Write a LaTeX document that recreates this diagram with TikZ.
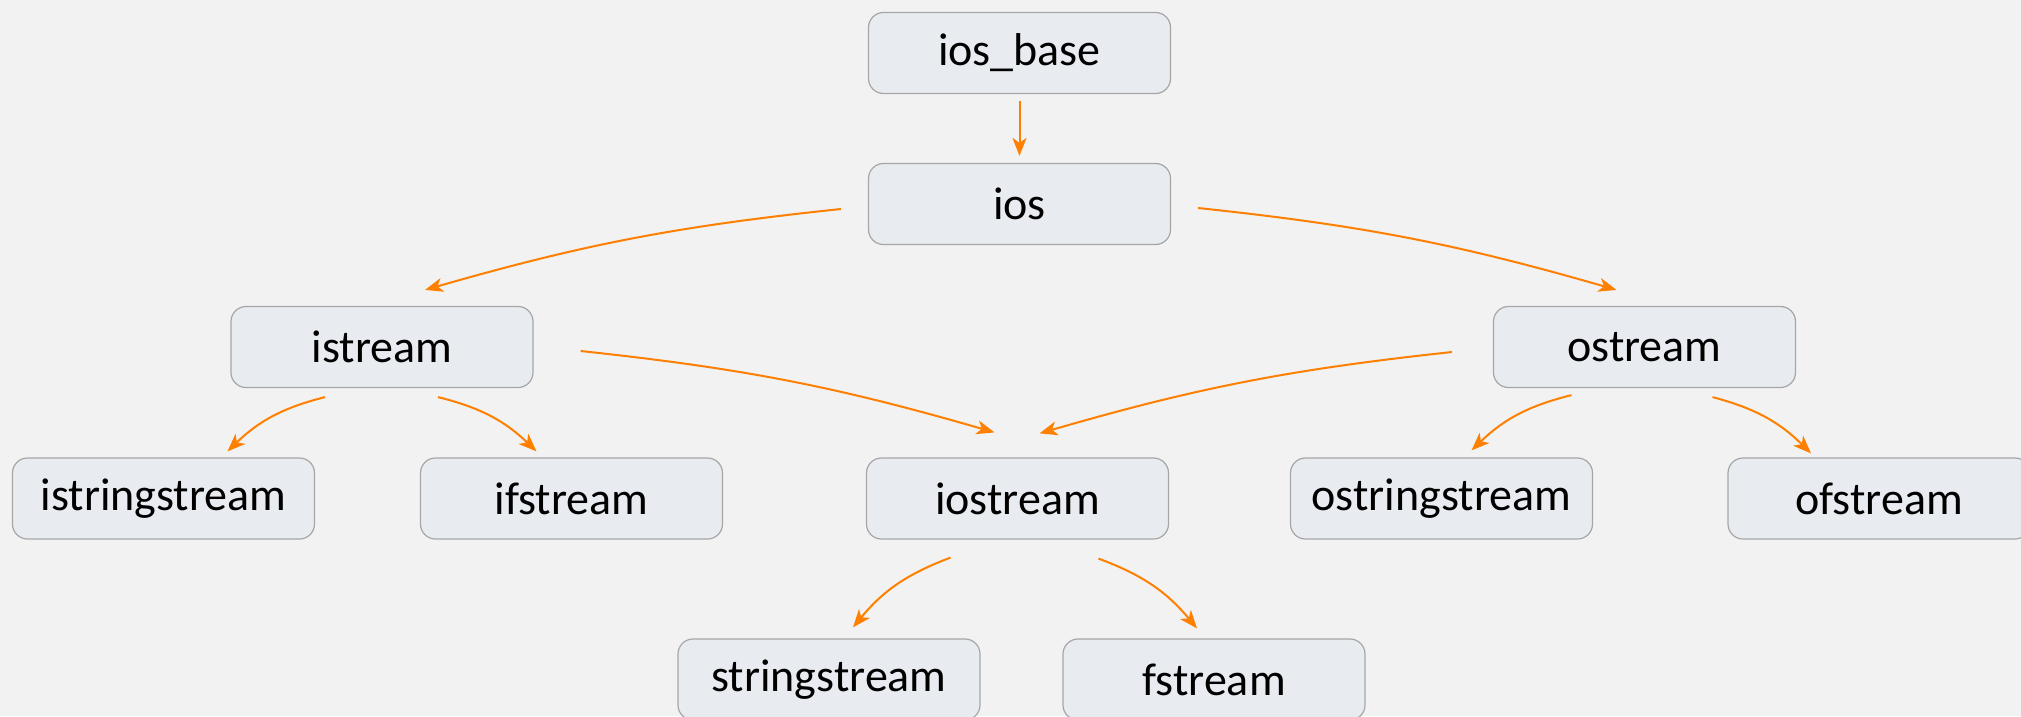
\documentclass[tikz,border=0pt]{standalone}
\usepackage{fontspec}
\setmainfont{Carlito}
\usetikzlibrary{arrows.meta}
\definecolor{bgc}{HTML}{F2F2F2}
\definecolor{boxfill}{HTML}{E8ECF0}
\definecolor{boxline}{HTML}{A6A6A6}
\definecolor{arr}{HTML}{FF8000}
\tikzset{
  cls/.style={draw=boxline, line width=1.2pt, fill=boxfill, rounded corners=15pt,
    minimum width=302pt, minimum height=81pt, inner sep=0pt,
    font=\fontsize{46}{54}\selectfont},
  inh/.style={draw=arr, line width=2pt, -{Stealth[length=18pt,width=14pt,inset=5pt]}}
}
\begin{document}
\begin{tikzpicture}[x=1pt,y=-1pt]
\fill[bgc] (0,0) rectangle (2021,716);
\useasboundingbox (0,0) rectangle (2021,716);
\node[cls] (iosbase) at (1019.5,53) {ios\_base};
\node[cls] (ios) at (1019.5,204) {ios};
\node[cls] (istream) at (382,347) {istream};
\node[cls] (ostream) at (1644.5,347) {ostream};
\node[cls] (istringstream) at (163.5,498.5) {istringstream};
\node[cls] (ifstream) at (571.5,498.5) {ifstream};
\node[cls] (iostream) at (1017.5,498.5) {iostream};
\node[cls] (ostringstream) at (1441.5,498.5) {ostringstream};
\node[cls] (ofstream) at (1879,498.5) {ofstream};
\node[cls] (stringstream) at (829,679.5) {stringstream};
\node[cls] (fstream) at (1214,679.5) {fstream};

\draw[inh] ([shift={(0,7)}]iosbase.south) -- ([shift={(0,-7)}]ios.north);
\draw[inh] ([shift={(-27,5)}]ios.west) to[bend right=5] ([shift={(43,-16)}]istream.north);
\draw[inh] ([shift={(27,4)}]ios.east) to[bend left=5] ([shift={(-28,-16)}]ostream.north);
\draw[inh] ([shift={(47,4)}]istream.east) to[bend left=5] ([shift={(-23,-25)}]iostream.north);
\draw[inh] ([shift={(-41,5)}]ostream.west) to[bend right=5] ([shift={(22,-24)}]iostream.north);
\draw[inh] ([shift={(-57,9)}]istream.south) to[bend right=15] ([shift={(64,-6)}]istringstream.north);
\draw[inh] ([shift={(56,9)}]istream.south) to[bend left=15] ([shift={(-35,-6)}]ifstream.north);
\draw[inh] ([shift={(-73,7)}]ostream.south) to[bend right=15] ([shift={(30,-7)}]ostringstream.north);
\draw[inh] ([shift={(68,9)}]ostream.south) to[bend left=15] ([shift={(-68,-4)}]ofstream.north);
\draw[inh] ([shift={(-67,18)}]iostream.south) to[bend right=15] ([shift={(24,-11)}]stringstream.north);
\draw[inh] ([shift={(81,19)}]iostream.south) to[bend left=15] ([shift={(-17,-10)}]fstream.north);
\end{tikzpicture}
\end{document}
